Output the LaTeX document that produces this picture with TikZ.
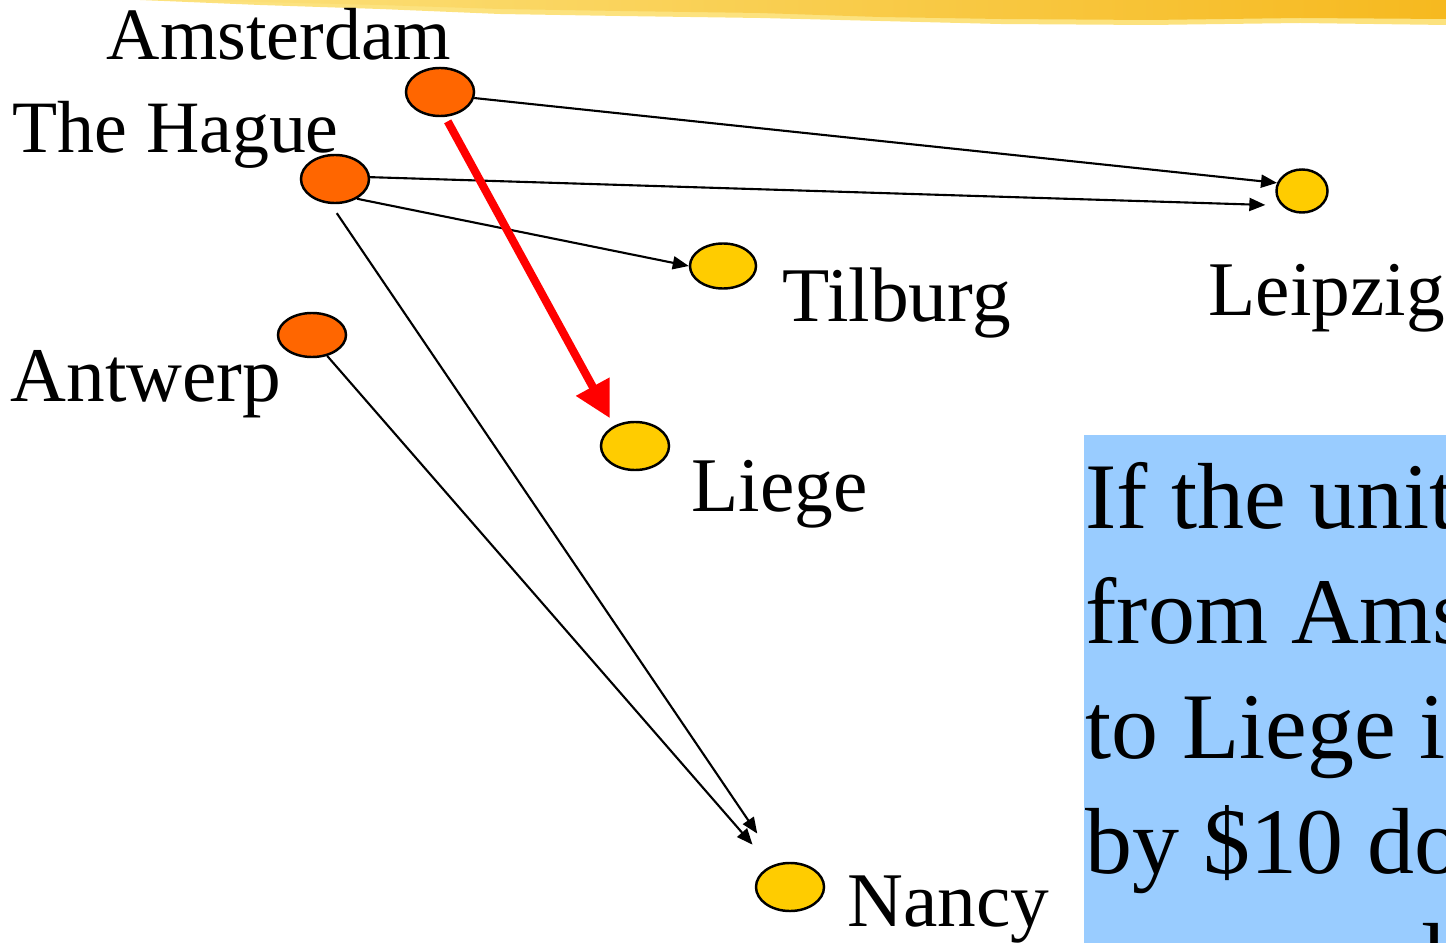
\documentclass[tikz,border=0pt]{standalone}
\usepackage{fontspec}
\setmainfont{Liberation Serif}
\usetikzlibrary{arrows.meta,shapes.geometric}
\definecolor{hub}{HTML}{FF6600}
\definecolor{dest}{HTML}{FFCC00}
\definecolor{notebox}{HTML}{99CCFF}
\definecolor{brush}{HTML}{F6B91F}
\definecolor{brushlight}{HTML}{FCE27E}
\tikzset{city/.style={ellipse,draw,line width=0.7pt,inner sep=0,
minimum width=6.8mm,minimum height=4.8mm},
source/.style={city,fill=hub},
sink/.style={city,fill=dest},
place/.style={font=\fontsize{22}{26}\selectfont,inner sep=0,anchor=base west},
small place/.style={place,font=\fontsize{21}{25}\selectfont},
note/.style={font=\fontsize{26.7}{32}\selectfont,inner sep=0,anchor=base west},
route/.style={line width=0.6pt,-{Triangle[length=1.6mm,width=1.3mm]}},
cut/.style={red,line width=2.3pt,-{Triangle[length=3.6mm,width=3.6mm]}}}

\begin{document}
\begin{tikzpicture}[x=0.01cm,y=-0.01cm]
\clip (0,0) rectangle (1446,943);
% brush stroke along the top
\fill[brushlight] (140,0) -- (1446,0) -- (1446,25) -- (1300,23) -- (1150,25) -- (1000,24)
-- (880,21) -- (760,18) -- (620,16) -- (500,14) -- (380,9) -- (260,5) -- cycle;
\shade[left color=brushlight,right color=brush] (150,0) -- (1446,0) -- (1446,19) -- (1300,18)
-- (1150,20) -- (1000,19) -- (880,17) -- (760,13) -- (620,11) -- (500,9) -- (380,5) -- (260,2) -- cycle;

% question box
\fill[notebox] (1084,435) rectangle (1446,943);
\foreach \txt [count=\i] in {If the unit cost,from Amsterdam,to Liege is,by \$10 does}
\node[note] (line\i) at (1085,{528+115*(\i-1)}) {\txt};
\node[note] (line5) at (1421,988) {lower?};

% city names
\node[small place] (amsname) at (106,60) {Amsterdam};
\node[small place] (hagname) at (12,153) {The Hague};
\node[place] (antname) at (10,401) {Antwerp};
\node[place] (tilname) at (782,322) {Tilburg};
\node[place] (leiname) at (1208,316) {Leipzig};
\node[place] (liename) at (691,511) {Liege};
\node[place] (nanname) at (847,926) {Nancy};

% plants and customers
\node[source] (ams) at (440,92) {};
\node[source] (hag) at (335,179) {};
\node[source,minimum height=4.4mm] (ant) at (312,335) {};
\node[sink,minimum width=6.6mm,minimum height=4.5mm] (til) at (723,266) {};
\node[sink,minimum width=5.1mm,minimum height=4.3mm] (lei) at (1302,191) {};
\node[sink] (lie) at (635,446) {};
\node[sink] (nan) at (790,887) {};

% shipments
\draw[route] (ams.-10) -- (lei.162);
\draw[route,shorten >=1.6mm] (hag.3) -- (lei.215);
\draw[route] (hag.-42) -- (til.west);
\draw[route,shorten <=1.1mm,shorten >=3.6mm] (hag.-100) -- (nan.118);
\draw[route,shorten >=2.8mm] (ant.-54) -- (nan.132);
\draw[cut,shorten <=0.5mm,shorten >=0.85mm] (ams.-78) -- (lie.136);
\end{tikzpicture}
\end{document}
